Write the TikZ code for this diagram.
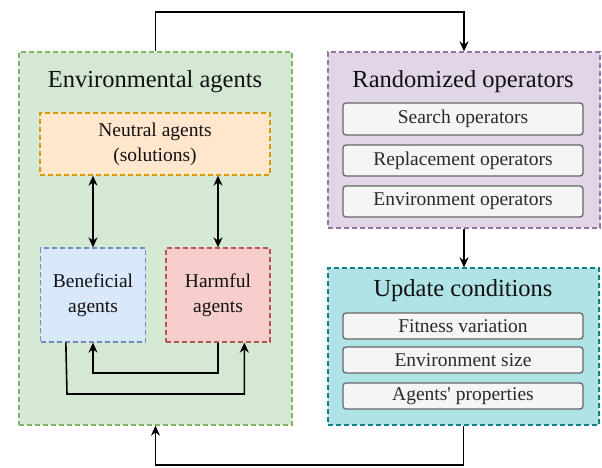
\documentclass[tikz,border=0pt]{standalone}
\usepackage{fontspec}
\setmainfont{Liberation Serif}
\usetikzlibrary{arrows.meta}
\definecolor{gfill}{HTML}{D5E8D4}\definecolor{gline}{HTML}{82B366}
\definecolor{ofill}{HTML}{FFE6CC}\definecolor{oline}{HTML}{D79B00}
\definecolor{bfill}{HTML}{DAE8FC}\definecolor{bline}{HTML}{6C8EBF}
\definecolor{rfill}{HTML}{F8CECC}\definecolor{rline}{HTML}{B85450}
\definecolor{pfill}{HTML}{E1D5E7}\definecolor{pline}{HTML}{9673A6}
\definecolor{cfill}{HTML}{B0E3E6}\definecolor{cline}{HTML}{0E8088}
\definecolor{ifill}{HTML}{F5F5F5}\definecolor{iline}{HTML}{666666}
\definecolor{txt}{HTML}{111111}\definecolor{itxt}{HTML}{2A2A2A}
\begin{document}
\begin{tikzpicture}[x=1pt,y=-1pt,
  group/.style={draw=#1, line width=1.3pt, dash pattern=on 5pt off 3pt, inner sep=0pt},
  inbox/.style={draw=iline, fill=ifill, rounded corners=3pt, line width=1.3pt, minimum width=240pt, inner sep=0pt, font=\fontsize{19.5}{22}\selectfont, text=itxt},
  title/.style={font=\fontsize{24.5}{28}\selectfont, text=txt},
  agent/.style={font=\fontsize{19.5}{25}\selectfont, text=txt, align=center},
  arr/.style={line width=1.6pt, -{Stealth[length=10pt,width=9pt]}},
  darr/.style={line width=1.6pt, {Stealth[length=10pt,width=9pt]}-{Stealth[length=10pt,width=9pt]}}]
\useasboundingbox (0,0) rectangle (602,467);
\node[group=gline, fill=gfill, minimum width=273pt, minimum height=373pt] (green) at (155.5,238.5) {};
\node[group=pline, fill=pfill, minimum width=272pt, minimum height=176pt] (purple) at (464,140) {};
\node[group=cline, fill=cfill, minimum width=271pt, minimum height=157pt] (cyan) at (463.5,346.5) {};
\node[title] (gt) at (155,82) {Environmental agents};
\node[title] (pt) at (463,82) {Randomized operators};
\node[title] (ct) at (463,291) {Update conditions};
\node[group=oline, fill=ofill, minimum width=230pt, minimum height=62pt, agent] (orange) at (155,144) {Neutral agents\\(solutions)};
\node[group=bline, fill=bfill, minimum width=105pt, minimum height=94pt, agent] (blue) at (93,295) {Beneficial\\agents};
\node[group=rline, fill=rfill, minimum width=104pt, minimum height=94pt, agent] (red) at (218,295) {Harmful\\agents};
\node[inbox, minimum height=32pt] (s1) at (463,119) {Search operators};
\node[inbox, minimum height=31pt] (s2) at (463,160.5) {Replacement operators};
\node[inbox, minimum height=31pt] (s3) at (463,201.5) {Environment operators};
\node[inbox, minimum height=26pt] (u1) at (463,326) {Fitness variation};
\node[inbox, minimum height=26pt] (u2) at (463,360) {Environment size};
\node[inbox, minimum height=26pt] (u3) at (463,396) {Agents\textquotesingle{} properties};
\coordinate (t1) at (155.5,12);
\coordinate (b1) at (463.5,465);
\draw[arr] (green.north) -- (t1) -| (purple.north);
\draw[arr] (purple.south) -- (purple.south |- cyan.north);
\draw[arr] (cyan.south) -- (b1) -| (green.south);
\draw[darr] (orange.south -| blue.north) -- (blue.north);
\draw[darr] (orange.south -| red.north) -- (red.north);
\coordinate (l1) at (67,394);
\coordinate (l2) at (218,373);
\draw[arr] ([xshift=26pt]blue.south west) -- (l1) -| ([xshift=79pt]red.south west);
\draw[arr] (red.south) -- (l2) -| (blue.south);
\end{tikzpicture}
\end{document}
